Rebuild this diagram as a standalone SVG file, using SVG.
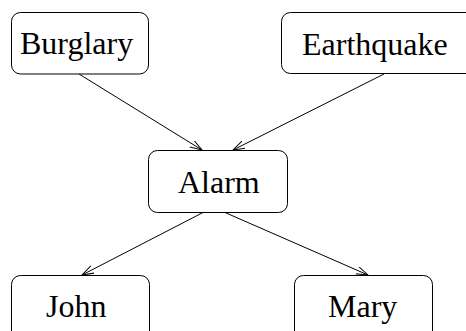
<svg xmlns="http://www.w3.org/2000/svg" width="466" height="331" viewBox="0 0 466 331">
<style>
.box{fill:#fff;stroke:#000;stroke-width:1}
.lbl{font-family:"Liberation Serif","Times New Roman",serif;font-size:32px;fill:#000}
.edge{stroke:#000;stroke-width:1;fill:none}
</style>
<defs>
<marker id="arr" markerUnits="userSpaceOnUse" markerWidth="14" markerHeight="10" refX="12" refY="4" orient="auto">
<path d="M0,0 L12,4 L0,8" fill="none" stroke="#000" stroke-width="1"/>
</marker>
</defs>
<rect width="466" height="331" fill="#fff"/>
<g id="edges">
<line class="edge" x1="79" y1="74" x2="202" y2="150" marker-end="url(#arr)"/>
<line class="edge" x1="384" y1="74" x2="233" y2="150" marker-end="url(#arr)"/>
<line class="edge" x1="203" y1="212.5" x2="82" y2="275" marker-end="url(#arr)"/>
<line class="edge" x1="225" y1="212.5" x2="368" y2="275" marker-end="url(#arr)"/>
</g>
<g id="burglary">
<rect class="box" x="11.5" y="12.5" width="137" height="61.5" rx="9"/>
<text class="lbl" x="20" y="54">Burglary</text>
</g>
<g id="earthquake">
<rect class="box" x="281.5" y="12.5" width="200" height="61" rx="9"/>
<text class="lbl" x="302" y="55">Earthquake</text>
</g>
<g id="alarm">
<rect class="box" x="148.5" y="150.5" width="139" height="62" rx="9"/>
<text class="lbl" x="178" y="193">Alarm</text>
</g>
<g id="john">
<rect class="box" x="11.5" y="275.5" width="138" height="70" rx="9"/>
<text class="lbl" x="46" y="317">John</text>
</g>
<g id="mary">
<rect class="box" x="294.5" y="275.5" width="138" height="70" rx="9"/>
<text class="lbl" x="328" y="317">Mary</text>
</g>
</svg>
